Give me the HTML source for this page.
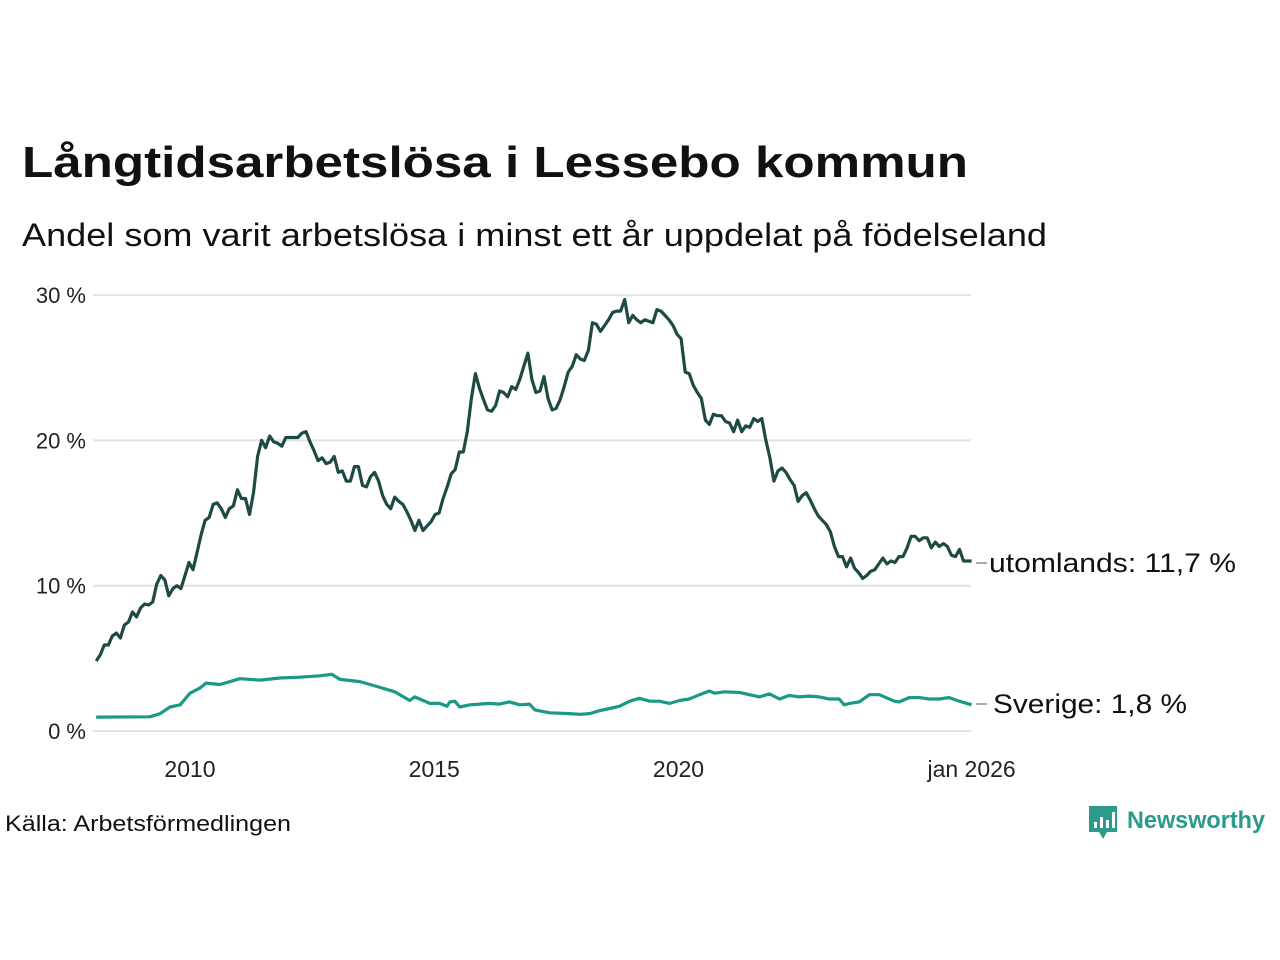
<!DOCTYPE html>
<html><head><meta charset="utf-8"><style>
body{margin:0;background:#fff;}
svg{display:block;font-family:"Liberation Sans","DejaVu Sans",sans-serif;}
</style></head><body>
<svg id="chart" width="1280" height="960" viewBox="0 0 1280 960" xmlns="http://www.w3.org/2000/svg">
<text x="22" y="177" font-size="44" font-weight="bold" fill="#111" textLength="946" lengthAdjust="spacingAndGlyphs">Långtidsarbetslösa i Lessebo kommun</text>
<text x="22" y="246" font-size="32" fill="#111" textLength="1025" lengthAdjust="spacingAndGlyphs">Andel som varit arbetslösa i minst ett år uppdelat på födelseland</text>
<g id="grid"></g>
<g id="lines"></g>
<text x="5" y="831" font-size="22" fill="#111" textLength="286" lengthAdjust="spacingAndGlyphs">Källa: Arbetsförmedlingen</text>
<g>
<path d="M1089 806 h28 v26 h-10 l-4 7 l-4 -7 h-10 z" fill="#2a9a8a"/>
<rect x="1094" y="822" width="3" height="6" fill="#fff"/><rect x="1100" y="817" width="3" height="11" fill="#fff"/><rect x="1106" y="820" width="3" height="8" fill="#fff"/><rect x="1112" y="812" width="3" height="16" fill="#fff"/>
<text x="1127" y="828" font-size="24" font-weight="bold" fill="#2a9a8a" textLength="138" lengthAdjust="spacingAndGlyphs">Newsworthy</text>
</g>
</svg>
<script>
const yTicks=[0,10,20,30];
const yTickLabels=["0 %","10 %","20 %","30 %"];
const xTicks=[2010,2015,2020,2026];
const xTickLabels=["2010","2015","2020","jan 2026"];
const darkStart=2008.08, darkEnd=2026.0;
const darkValues=[4.82,5.23,5.92,5.92,6.54,6.74,6.4,7.3,7.5,8.19,7.85,8.47,8.74,8.67,8.88,10.1,10.7,10.4,9.3,9.8,10.0,9.8,10.7,11.6,11.1,12.3,13.5,14.5,14.7,15.6,15.7,15.3,14.7,15.3,15.5,16.6,16.0,16.0,14.9,16.4,18.9,20.0,19.5,20.3,19.9,19.8,19.6,20.2,20.2,20.2,20.2,20.5,20.6,19.9,19.3,18.6,18.8,18.4,18.5,18.9,17.8,17.9,17.2,17.2,18.2,18.2,16.9,16.8,17.5,17.8,17.2,16.2,15.6,15.3,16.1,15.8,15.6,15.1,14.5,13.8,14.5,13.8,14.1,14.4,14.9,15.0,16.0,16.8,17.7,18.0,19.2,19.2,20.6,22.9,24.6,23.6,22.8,22.1,22.0,22.4,23.4,23.3,23.0,23.7,23.5,24.2,25.1,26.0,24.2,23.3,23.4,24.4,22.9,22.1,22.2,22.8,23.7,24.7,25.1,25.9,25.6,25.5,26.2,28.1,28.0,27.5,27.9,28.3,28.8,28.9,28.9,29.7,28.1,28.6,28.3,28.1,28.3,28.2,28.1,29.0,28.9,28.6,28.3,27.9,27.3,27.0,24.7,24.6,23.8,23.3,22.9,21.4,21.1,21.8,21.7,21.7,21.3,21.2,20.6,21.4,20.6,21.0,20.9,21.5,21.3,21.5,20.0,18.8,17.2,17.9,18.1,17.8,17.3,16.9,15.8,16.2,16.4,15.9,15.3,14.8,14.5,14.2,13.7,12.7,12.0,12.0,11.3,11.9,11.2,10.9,10.5,10.7,11.0,11.1,11.5,11.9,11.5,11.7,11.6,12.0,12.0,12.6,13.4,13.4,13.1,13.3,13.3,12.6,13.0,12.7,12.9,12.7,12.1,12.0,12.5,11.7,11.7,11.7];
const lightYears=[2008.08,2009.18,2009.39,2009.59,2009.80,2010.0,2010.2,2010.33,2010.61,2010.82,2011.02,2011.43,2011.84,2012.25,2012.66,2012.9,2013.07,2013.48,2013.89,2014.19,2014.5,2014.6,2014.91,2015.11,2015.26,2015.32,2015.42,2015.52,2015.73,2015.93,2016.13,2016.34,2016.54,2016.75,2016.95,2017.06,2017.36,2017.77,2017.98,2018.18,2018.38,2018.59,2018.79,2019.0,2019.2,2019.41,2019.61,2019.82,2020.02,2020.22,2020.43,2020.63,2020.74,2020.94,2021.25,2021.66,2021.86,2022.07,2022.27,2022.47,2022.68,2022.88,2023.09,2023.29,2023.39,2023.5,2023.7,2023.91,2024.11,2024.42,2024.52,2024.72,2024.93,2025.13,2025.34,2025.54,2025.75,2026.0];
const lightValues=[0.96,0.98,1.2,1.65,1.8,2.6,2.95,3.3,3.2,3.4,3.6,3.5,3.65,3.7,3.8,3.9,3.55,3.4,3.0,2.7,2.1,2.35,1.9,1.9,1.7,2.0,2.05,1.65,1.8,1.85,1.9,1.85,2.0,1.8,1.85,1.45,1.25,1.2,1.15,1.2,1.4,1.55,1.7,2.05,2.25,2.05,2.05,1.9,2.1,2.2,2.5,2.75,2.6,2.7,2.65,2.35,2.55,2.2,2.45,2.35,2.4,2.35,2.2,2.2,1.8,1.9,2.0,2.5,2.5,2.05,2.0,2.3,2.3,2.2,2.2,2.3,2.05,1.8];
const seriesLabels=["utomlands: 11,7 %","Sverige:  1,8 %"];

const NS="http://www.w3.org/2000/svg";
const X=y=>190+(y-2010)*48.85;
const Y=v=>731-v*14.53;
function mk(tag,attrs,parent){const e=document.createElementNS(NS,tag);for(const k in attrs)e.setAttribute(k,attrs[k]);parent.appendChild(e);return e;}
const grid=document.getElementById('grid'), lines=document.getElementById('lines');
yTicks.forEach((t,i)=>{
  const l=mk('line',{x1:93,x2:971,y1:Y(t),y2:Y(t),stroke:'#e3e3e6','stroke-width':2},grid);
  
  
  const tx=mk('text',{x:86,y:Y(t)+8,'font-size':22,fill:'#222','text-anchor':'end'},grid);
  tx.textContent=yTickLabels[i];
  
  
});
xTicks.forEach((t,i)=>{
  const tx=mk('text',{x:X(t),y:777,'font-size':23,fill:'#222','text-anchor':'middle'},grid);
  tx.textContent=xTickLabels[i];
  
  
});
const n=darkValues.length;
const dpts=darkValues.map((v,i)=>[X(darkStart+i*(darkEnd-darkStart)/(n-1)),Y(v)]);
const lpts=lightValues.map((v,i)=>[X(lightYears[i]),Y(v)]);
const pd=p=>p.map((q,i)=>(i?'L':'M')+q[0].toFixed(1)+' '+q[1].toFixed(1)).join(' ');
const lp=mk('path',{d:pd(lpts),fill:'none',stroke:'#1a9985','stroke-width':3.2,'stroke-linejoin':'round'},lines);


const dp=mk('path',{d:pd(dpts),fill:'none',stroke:'#1e4a44','stroke-width':3.2,'stroke-linejoin':'round'},lines);


[0,1].forEach(i=>{
  const yl=i===0?563:704;
  const l=mk('line',{x1:976,x2:987,y1:yl,y2:yl,stroke:'#555','stroke-width':1},lines);
  
  
  const t=mk('text',{x:i===0?989:993,y:yl+9,'font-size':27,fill:'#111',textLength:i===0?247:194,lengthAdjust:'spacingAndGlyphs'},lines);
  t.textContent=seriesLabels[i];
  
  
});
</script>
</body></html>
